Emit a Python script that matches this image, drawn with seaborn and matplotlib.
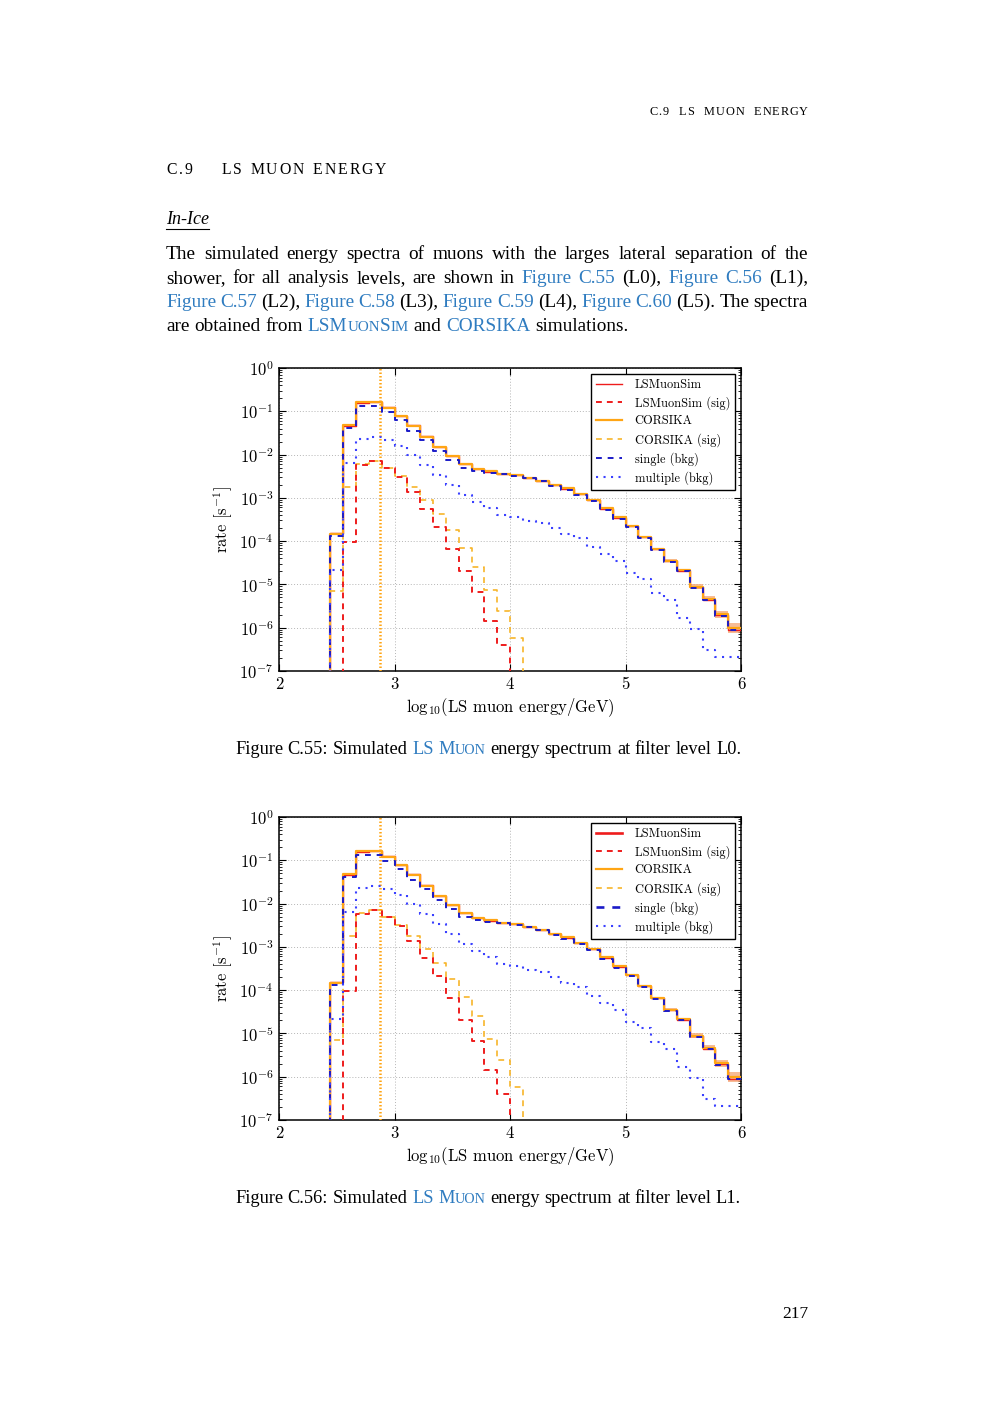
import numpy as np
import matplotlib
matplotlib.use("Agg")
import matplotlib.pyplot as plt
from matplotlib.lines import Line2D
from matplotlib.ticker import LogLocator, FixedLocator, NullFormatter
import seaborn as sns

W, H = 1000, 1414

# --- binning: 36 bins in log10(E/GeV) between 2 and 6 ---
edges = np.linspace(2.0, 6.0, 37)
centers = 0.5 * (edges[:-1] + edges[1:])

# --- log10(rate [1/s]) per bin; the list starts at bin `*_start` ---
total_start = 4
lsmuon_log = [-3.82, -1.33, -0.80, -0.79, -0.91, -1.12, -1.32, -1.58, -1.83, -2.04,
              -2.22, -2.34, -2.40, -2.44, -2.48, -2.54, -2.61, -2.70, -2.79, -2.92,
              -3.06, -3.25, -3.46, -3.66, -3.91, -4.19, -4.46, -4.68, -5.07, -5.35,
              -5.71, -6.05]
corsika_log = [-3.83, -1.32, -0.79, -0.78, -0.92, -1.11, -1.33, -1.59, -1.82, -2.04,
               -2.22, -2.33, -2.39, -2.44, -2.48, -2.53, -2.60, -2.70, -2.78, -2.91,
               -3.05, -3.24, -3.45, -3.65, -3.90, -4.18, -4.45, -4.67, -5.05, -5.33,
               -5.69, -6.01]
# half width of the statistical band (dex)
corsika_band = [0.0] * 25 + [0.02, 0.03, 0.03, 0.05, 0.06, 0.08, 0.11]
single_log = [-3.88, -1.38, -0.88, -0.88, -1.02, -1.19, -1.45, -1.66, -1.92, -2.12,
              -2.31, -2.39, -2.43, -2.46, -2.49, -2.55, -2.62, -2.72, -2.81, -2.94,
              -3.08, -3.27, -3.48, -3.68, -3.93, -4.21, -4.48, -4.70, -5.09, -5.37,
              -5.73, -6.06]
multiple_log = [-4.67, -2.20, -1.64, -1.59, -1.66, -1.80, -2.01, -2.23, -2.47, -2.70,
                -2.93, -3.10, -3.24, -3.40, -3.44, -3.53, -3.59, -3.70, -3.84, -3.92,
                -4.13, -4.30, -4.47, -4.73, -4.88, -5.19, -5.36, -5.78, -6.04, -6.51,
                -6.68, -6.68]
lsmuon_sig_start = 5
lsmuon_sig_log = [-4.03, -2.24, -2.16, -2.30, -2.51, -2.87, -3.26, -3.68, -4.17, -4.70,
                  -5.18, -5.84, -6.40]
corsika_sig_start = 4
corsika_sig_log = [-5.15, -2.74, -2.21, -2.14, -2.30, -2.49, -2.74, -3.05, -3.37, -3.74,
                   -4.15, -4.60, -5.14, -5.61, -6.24]
signal_cut = 2.875  # log10(750 GeV)

y_ticks = [1e-7, 1e-6, 1e-5, 1e-4, 1e-3, 1e-2, 1e-1, 1e0]
x_ticks = [2, 3, 4, 5, 6]
legend_labels = ["LSMuonSim", "LSMuonSim (sig)", "CORSIKA", "CORSIKA (sig)",
                 "single (bkg)", "multiple (bkg)"]


def to_rate(logs, start):
    out = np.zeros(len(centers))
    out[start:start + len(logs)] = 10.0 ** np.array(logs)
    return out


lsmuon = to_rate(lsmuon_log, total_start)
corsika = to_rate(corsika_log, total_start)
band = np.zeros(len(centers))
band[total_start:total_start + len(corsika_band)] = corsika_band
single = to_rate(single_log, total_start)
multiple = to_rate(multiple_log, total_start)
lsmuon_sig = to_rate(lsmuon_sig_log, lsmuon_sig_start)
corsika_sig = to_rate(corsika_sig_log, corsika_sig_start)

RED = "#ee1c1c"
ORANGE = "#ffa514"
ORANGE_SIG = "#f7b52a"
BLUE = "#1a1ac8"
BLUE_MULTI = "#3a40ff"
LINK = "#2f7cc0"
PAGE_FONT = "Liberation Serif"

plt.rcParams["font.family"] = "cmr10"
plt.rcParams["mathtext.fontset"] = "cm"
plt.rcParams["axes.formatter.use_mathtext"] = True
plt.rcParams["axes.unicode_minus"] = False


def styles(bold):
    return {
        "LSMuonSim": dict(color=RED, linewidth=1.9 if bold else 1.0, linestyle="-"),
        "LSMuonSim (sig)": dict(color=RED, linewidth=1.4, linestyle=(0, (3, 2.6))),
        "CORSIKA": dict(color=ORANGE, linewidth=1.6, linestyle="-"),
        "CORSIKA (sig)": dict(color=ORANGE_SIG, linewidth=1.2, linestyle=(0, (3.5, 3.0))),
        "single (bkg)": dict(color=BLUE, linewidth=1.9 if bold else 1.4, linestyle=(0, (3, 3))),
        "multiple (bkg)": dict(color=BLUE_MULTI, linewidth=1.5, linestyle=(0, (1, 2.6))),
    }


def step_hist(ax, rates, st, z):
    sns.histplot(x=list(centers), weights=list(rates), bins=list(edges), element="step",
                 fill=False, ax=ax, zorder=z, **st)


def draw_panel(ax, bold_legend):
    st = styles(False)
    for i in range(len(centers)):
        if band[i] > 0:
            ax.fill_between([edges[i], edges[i + 1]],
                            corsika[i] * 10 ** (-band[i]), corsika[i] * 10 ** band[i],
                            color="#f5a06a", alpha=0.7, linewidth=0, zorder=2)
    step_hist(ax, lsmuon, st["LSMuonSim"], 3)
    step_hist(ax, corsika, st["CORSIKA"], 4)
    step_hist(ax, corsika_sig, st["CORSIKA (sig)"], 5)
    step_hist(ax, lsmuon_sig, st["LSMuonSim (sig)"], 6)
    step_hist(ax, single, st["single (bkg)"], 7)
    step_hist(ax, multiple, st["multiple (bkg)"], 8)
    ax.axvline(signal_cut, color=ORANGE, linestyle=(0, (0.6, 0.8)), linewidth=1.8, zorder=5)

    ax.set_yscale("log")
    ax.set_xlim(2, 6)
    ax.set_ylim(1e-7, 1e0)
    ax.yaxis.set_major_locator(FixedLocator(y_ticks))
    ax.yaxis.set_minor_locator(LogLocator(base=10, subs=np.arange(2, 10)))
    ax.yaxis.set_minor_formatter(NullFormatter())
    ax.set_xticks(x_ticks)
    ax.set_xticklabels([str(t) for t in x_ticks])
    ax.tick_params(which="both", direction="in", top=True, right=True, labelsize=12, pad=4)
    ax.tick_params(which="major", length=5, width=0.8)
    ax.tick_params(which="minor", length=2.5, width=0.6)
    ax.grid(True, which="major", linestyle=(0, (1, 2)), color="#b5b5b5", linewidth=0.7)
    ax.set_axisbelow(True)
    for sp in ax.spines.values():
        sp.set_linewidth(1.1)
    ax.set_ylabel(r"rate [s$^{-1}$]", fontsize=12, labelpad=3)
    ax.set_xlabel(r"log$_{10}$(LS muon energy/GeV)", fontsize=12, labelpad=3)

    lst = styles(bold_legend)
    handles = [Line2D([], [], **lst[k]) for k in legend_labels]
    leg = ax.legend(handles, legend_labels, loc="upper right", fontsize=8.9,
                    frameon=True, fancybox=False, edgecolor="black", framealpha=1,
                    handlelength=2.1, handletextpad=1.0, labelspacing=0.43,
                    borderpad=0.42, borderaxespad=0.45)
    leg.get_frame().set_linewidth(1.0)


fig = plt.figure(figsize=(W / 100, H / 100), dpi=100)
r = fig.canvas.get_renderer()


def fy(y):
    return 1 - y / H


def measure(s, size, style="normal"):
    t = fig.text(0, 0, s, fontsize=size, family=PAGE_FONT, style=style)
    w = t.get_window_extent(renderer=r).width
    t.remove()
    return w


def word_width(word, size):
    return sum(measure(s, size * k) for s, c, k in word)


def draw_word(x, y, word, size):
    for s, c, k in word:
        fig.text(x / W, fy(y), s, fontsize=size * k, family=PAGE_FONT, color=c, va="baseline")
        x += measure(s, size * k)


def plain(s, color="black"):
    return [[(w, color, 1.0)] for w in s.split()]


def draw_line(y, words, x0, x1, size, justify=True, center=None):
    widths = [word_width(w, size) for w in words]
    space = measure("a a", size) - 2 * measure("a", size)
    if justify:
        gap = (x1 - x0 - sum(widths)) / (len(words) - 1)
    else:
        gap = space
    x = x0
    if center is not None:
        x = center - (sum(widths) + gap * (len(words) - 1)) / 2
    for w, wd in zip(words, widths):
        draw_word(x, y, w, size)
        x += wd + gap


def spaced(x, y, s, size, track, ha="left"):
    ws = [size * 0.3 * 100 / 72 if ch == " " else measure(ch, size) for ch in s]
    total = sum(ws) + track * (len(s) - 1)
    if ha == "right":
        x -= total
    for ch, w in zip(s, ws):
        if ch != " ":
            fig.text(x / W, fy(y), ch, fontsize=size, family=PAGE_FONT, va="baseline")
        x += w + track


# --- page text ---
spaced(808, 115, "C.9  LS  MUON  ENERGY", 8.8, 0.9, ha="right")
spaced(166, 174, "C.9    LS MUON ENERGY", 11.3, 2.0)

it = fig.text(166 / W, fy(224), "In-Ice", fontsize=13, family=PAGE_FONT, style="italic",
              va="baseline")
iw = it.get_window_extent(renderer=r).width
fig.add_artist(Line2D([166 / W, (166 + iw) / W], [fy(228.5), fy(228.5)], color="black",
                      linewidth=0.8))

BODY = 13.9
lsm = [("LSM", LINK, 1.0), ("UON", LINK, 0.78), ("S", LINK, 1.0), ("IM", LINK, 0.78)]
line1 = plain("The simulated energy spectra of muons with the larges lateral separation of the")
line2 = (plain("shower, for all analysis levels, are shown in") + plain("Figure C.55", LINK)
         + plain("(L0),") + plain("Figure C.56", LINK) + plain("(L1),"))
line3 = (plain("Figure C.57", LINK) + plain("(L2),") + plain("Figure C.58", LINK)
         + plain("(L3),") + plain("Figure C.59", LINK) + plain("(L4),")
         + plain("Figure C.60", LINK) + plain("(L5). The spectra"))
line4 = (plain("are obtained from") + [lsm] + plain("and") + plain("CORSIKA", LINK)
         + plain("simulations."))
draw_line(259, line1, 166, 808, BODY)
draw_line(283, line2, 166, 808, BODY)
draw_line(307, line3, 166, 808, BODY)
draw_line(331, line4, 166, 808, BODY, justify=False)

CAP = 13.2
for yb, lvl, num in [(754, "L0.", "C.55:"), (1203, "L1.", "C.56:")]:
    cap = (plain("Figure " + num + " Simulated") + plain("LS", LINK)
           + [[("M", LINK, 1.0), ("UON", LINK, 0.78)]]
           + plain("energy spectrum at filter level " + lvl))
    draw_line(yb, cap, 0, 0, CAP, justify=False, center=488)

fig.text(808 / W, fy(1318), "217", fontsize=12.5, family=PAGE_FONT, ha="right", va="baseline")

# --- the two panels ---
ax1 = fig.add_axes([279 / W, fy(671), 462 / W, 303 / H])
draw_panel(ax1, bold_legend=False)
ax2 = fig.add_axes([279 / W, fy(1120), 462 / W, 303 / H])
draw_panel(ax2, bold_legend=True)

fig.savefig("out.png", dpi=100)
